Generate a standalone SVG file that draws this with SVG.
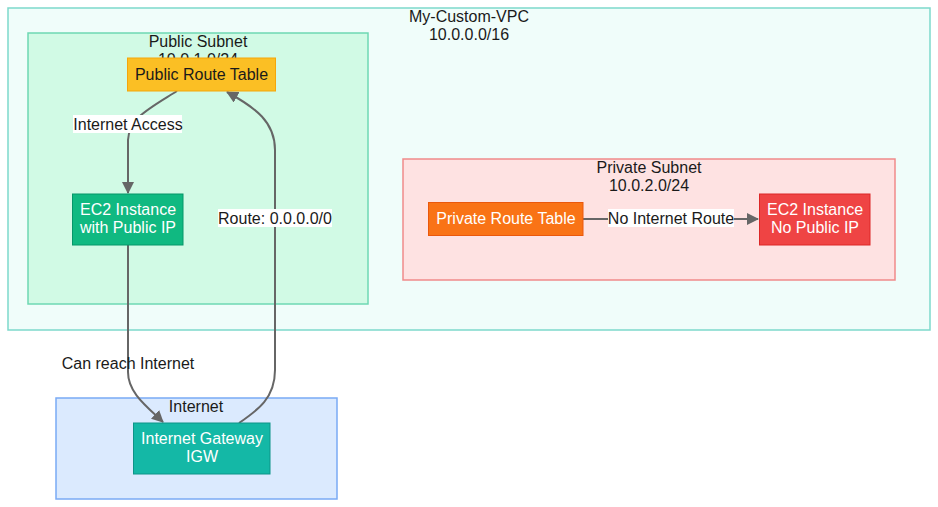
<svg xmlns="http://www.w3.org/2000/svg" width="938" height="507" viewBox="0 0 938 507">
<defs>
<style>
text{font-family:"Liberation Sans",Arial,sans-serif;font-size:16px;text-anchor:middle}
.t{fill:#1a1a1a}
.w{fill:#ffffff}
.e{fill:none;stroke:#666666;stroke-width:2}
.lb{fill:#ffffff}
</style>
<marker id="ah" viewBox="0 0 10 10" refX="9" refY="5" markerWidth="6" markerHeight="6" markerUnits="userSpaceOnUse" orient="auto">
<path d="M0,0 L10,5 L0,10 z" fill="#666666"/>
</marker>
<marker id="arr" viewBox="0 0 12 12" refX="11" refY="6" markerWidth="12" markerHeight="12" markerUnits="userSpaceOnUse" orient="auto">
<path d="M0,0 L12,6 L0,12 z" fill="#666666"/>
</marker>
</defs>
<g id="vpc">
<rect x="8" y="8" width="922" height="322" fill="#f0fdfa" stroke="#7dd9cb" stroke-width="1.5"/>
<text class="t" x="469" y="22">My-Custom-VPC</text>
<text class="t" x="469" y="40">10.0.0.0/16</text>
</g>
<g id="public-subnet">
<rect x="28" y="33" width="340" height="271" fill="#d1fae5" stroke="#6ed8b3" stroke-width="1.5"/>
<text class="t" x="198" y="47">Public Subnet</text>
<text class="t" x="198" y="65">10.0.1.0/24</text>
</g>
<g id="private-subnet">
<rect x="403" y="159" width="492" height="121" fill="#fee2e2" stroke="#f08a8a" stroke-width="1.5"/>
<text class="t" x="649" y="173">Private Subnet</text>
<text class="t" x="649" y="191">10.0.2.0/24</text>
</g>
<g id="internet">
<rect x="56" y="398" width="281" height="101" fill="#dbeafe" stroke="#7aaaf5" stroke-width="1.5"/>
<text class="t" x="196" y="412">Internet</text>
</g>
<g id="connectors">
<path class="e" marker-end="url(#arr)" d="M177,91 C150,108 129,118 128,140 L128,193"/>
<path class="e" marker-end="url(#arr)" d="M128,245 L128,372 C128,392 145,405 163,422"/>
<path class="e" marker-end="url(#arr)" d="M239,423 C258,410 275,398 275,370 L275,150 C275,122 256,108 227,92"/>
<path class="e" marker-end="url(#arr)" d="M583,219 L758,219"/>
<rect class="lb" x="73" y="115" width="109" height="18"/>
<text class="t" x="128" y="130">Internet Access</text>
<text class="t" x="128" y="369">Can reach Internet</text>
<rect class="lb" x="218" y="209" width="114" height="18"/>
<text class="t" x="275" y="224">Route: 0.0.0.0/0</text>
<rect class="lb" x="608" y="209" width="126" height="18"/>
<text class="t" x="671" y="224">No Internet Route</text>
</g>
<g id="public-route-table">
<rect x="127.5" y="58" width="148" height="33" fill="#fbbf24" stroke="#f5a50b" stroke-width="1"/>
<text class="t" x="201.5" y="79.5">Public Route Table</text>
</g>
<g id="ec2-public">
<rect x="72.5" y="194" width="110.5" height="51" fill="#10b981" stroke="#059669" stroke-width="1"/>
<text class="w" x="128" y="215">EC2 Instance</text>
<text class="w" x="128" y="233">with Public IP</text>
</g>
<g id="private-route-table">
<rect x="428.5" y="202.5" width="154.5" height="33" fill="#f97316" stroke="#ea580c" stroke-width="1"/>
<text class="w" x="506" y="224">Private Route Table</text>
</g>
<g id="ec2-private">
<rect x="759.5" y="194" width="110.5" height="51" fill="#ef4444" stroke="#dc2626" stroke-width="1"/>
<text class="w" x="815" y="215">EC2 Instance</text>
<text class="w" x="815" y="233">No Public IP</text>
</g>
<g id="igw">
<rect x="133.5" y="423" width="136.5" height="51" fill="#14b8a6" stroke="#0d9488" stroke-width="1"/>
<text class="w" x="202" y="444">Internet Gateway</text>
<text class="w" x="202" y="462">IGW</text>
</g>
</svg>
